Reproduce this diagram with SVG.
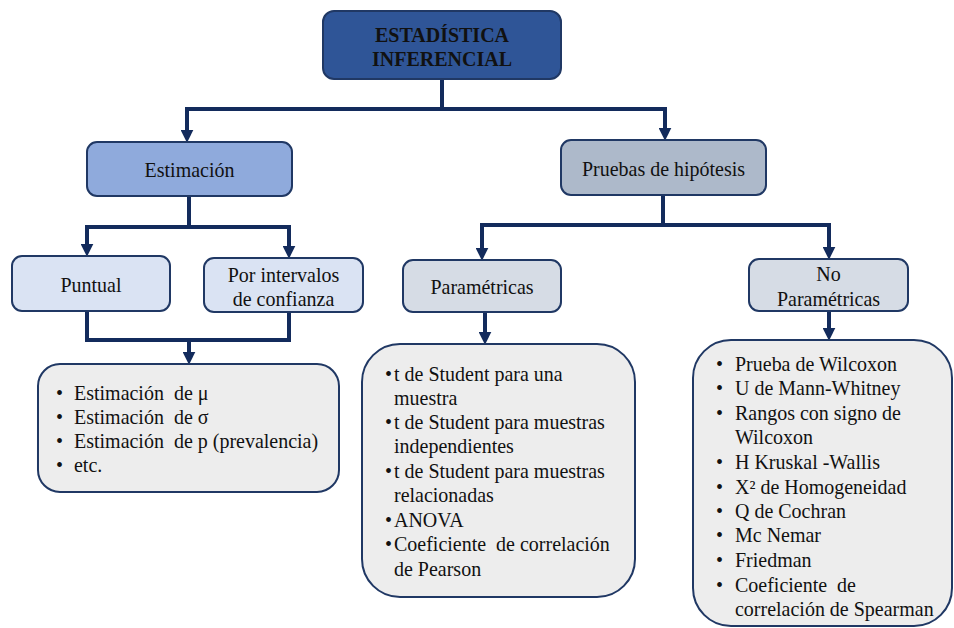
<svg xmlns="http://www.w3.org/2000/svg" width="954" height="628" viewBox="0 0 954 628">
<defs>
<marker id="ah" markerUnits="userSpaceOnUse" markerWidth="13" markerHeight="13" viewBox="0 0 12 12" refX="4" refY="6" orient="auto">
<path d="M0,0 L12,6 L0,12 z" fill="#132B5C"/>
</marker>
</defs>
<style>
.box{stroke:#203864;stroke-width:2}
.t{font-family:'Liberation Serif','Times New Roman',serif;font-size:24px;fill:#111111}
.c{text-anchor:middle}
.b{font-weight:bold}
.ln{fill:none;stroke:#132B5C;stroke-width:4;stroke-linecap:square}
.ar{fill:none;stroke:#132B5C;stroke-width:4}
</style>
<rect width="954" height="628" fill="#ffffff"/>
<g id="connectors">
<path class="ln" d="M442,79 V109"/>
<path class="ln" d="M187,109 H665"/>
<path class="ar" d="M187,109 V134" marker-end="url(#ah)"/>
<path class="ar" d="M665,109 V132" marker-end="url(#ah)"/>
<path class="ln" d="M189,196 V227"/>
<path class="ln" d="M87,227 H289"/>
<path class="ar" d="M87,227 V248" marker-end="url(#ah)"/>
<path class="ar" d="M289,227 V250" marker-end="url(#ah)"/>
<path class="ln" d="M663,195 V225"/>
<path class="ln" d="M482,225 H829"/>
<path class="ar" d="M482,225 V252" marker-end="url(#ah)"/>
<path class="ar" d="M829,225 V251" marker-end="url(#ah)"/>
<path class="ln" d="M87,312 V340 H289 V313" stroke-linejoin="miter"/>
<path class="ar" d="M189,340 V356" marker-end="url(#ah)"/>
<path class="ar" d="M485,312 V336" marker-end="url(#ah)"/>
<path class="ar" d="M829,311 V332" marker-end="url(#ah)"/>
</g>
<g id="n-root">
<rect class="box" x="323" y="11" width="238" height="68" rx="11" fill="#2F5597"/>
<text class="t c b" transform="translate(442,42) scale(0.83333)">ESTADÍSTICA</text>
<text class="t c b" transform="translate(442,66) scale(0.83333)">INFERENCIAL</text>
</g>
<g id="n-estimacion">
<rect class="box" x="87" y="142" width="205" height="54" rx="10" fill="#8FAADC"/>
<text class="t c" transform="translate(189.5,177) scale(0.83333)">Estimación</text>
</g>
<g id="n-pruebas">
<rect class="box" x="561" y="140" width="205" height="55" rx="10" fill="#ADB9CA"/>
<text class="t c" transform="translate(663.5,176) scale(0.83333)">Pruebas de hipótesis</text>
</g>
<g id="n-puntual">
<rect class="box" x="12" y="256" width="158" height="55" rx="10" fill="#DAE3F3"/>
<text class="t c" transform="translate(91,292) scale(0.83333)">Puntual</text>
</g>
<g id="n-intervalos">
<rect class="box" x="204" y="258" width="159" height="54" rx="10" fill="#DAE3F3"/>
<text class="t c" transform="translate(283.5,282) scale(0.83333)">Por intervalos</text>
<text class="t c" transform="translate(283.5,306) scale(0.83333)">de confianza</text>
</g>
<g id="n-parametricas">
<rect class="box" x="403" y="260" width="158" height="52" rx="10" fill="#D6DCE5"/>
<text class="t c" transform="translate(482,294) scale(0.83333)">Paramétricas</text>
</g>
<g id="n-noparametricas">
<rect class="box" x="749" y="259" width="159" height="52" rx="10" fill="#D6DCE5"/>
<text class="t c" transform="translate(828.5,281) scale(0.83333)">No</text>
<text class="t c" transform="translate(828.5,306) scale(0.83333)">Paramétricas</text>
</g>
<g id="n-list-estimacion">
<rect class="box" x="38" y="364" width="301" height="128" rx="22" fill="#EDEDED"/>
<text class="t" transform="translate(56,400) scale(0.83333)">•</text><text class="t" transform="translate(74,400) scale(0.83333)" xml:space="preserve">Estimación  de μ</text>
<text class="t" transform="translate(56,424) scale(0.83333)">•</text><text class="t" transform="translate(74,424) scale(0.83333)" xml:space="preserve">Estimación  de σ</text>
<text class="t" transform="translate(56,448) scale(0.83333)">•</text><text class="t" transform="translate(74,448) scale(0.83333)" xml:space="preserve">Estimación  de p (prevalencia)</text>
<text class="t" transform="translate(56,472) scale(0.83333)">•</text><text class="t" transform="translate(74,472) scale(0.83333)">etc.</text>
</g>
<g id="n-list-parametricas">
<rect class="box" x="362" y="344" width="273" height="253" rx="38" fill="#EDEDED"/>
<text class="t" transform="translate(385,381) scale(0.83333)">•</text><text class="t" transform="translate(394,381) scale(0.83333)">t de Student para una</text>
<text class="t" transform="translate(394,405) scale(0.83333)">muestra</text>
<text class="t" transform="translate(385,429) scale(0.83333)">•</text><text class="t" transform="translate(394,429) scale(0.83333)">t de Student para muestras</text>
<text class="t" transform="translate(394,453) scale(0.83333)">independientes</text>
<text class="t" transform="translate(385,478) scale(0.83333)">•</text><text class="t" transform="translate(394,478) scale(0.83333)">t de Student para muestras</text>
<text class="t" transform="translate(394,502) scale(0.83333)">relacionadas</text>
<text class="t" transform="translate(385,527) scale(0.83333)">•</text><text class="t" transform="translate(394,527) scale(0.83333)">ANOVA</text>
<text class="t" transform="translate(385,551) scale(0.83333)">•</text><text class="t" transform="translate(394,551) scale(0.83333)" xml:space="preserve">Coeficiente  de correlación</text>
<text class="t" transform="translate(394,576) scale(0.83333)">de Pearson</text>
</g>
<g id="n-list-noparametricas">
<rect class="box" x="693" y="340" width="259" height="286" rx="38" fill="#EDEDED"/>
<text class="t" transform="translate(716,371) scale(0.83333)">•</text><text class="t" transform="translate(735,371) scale(0.83333)">Prueba de Wilcoxon</text>
<text class="t" transform="translate(716,395) scale(0.83333)">•</text><text class="t" transform="translate(735,395) scale(0.83333)">U de Mann-Whitney</text>
<text class="t" transform="translate(716,420) scale(0.83333)">•</text><text class="t" transform="translate(735,420) scale(0.83333)">Rangos con signo de</text>
<text class="t" transform="translate(735,444) scale(0.83333)">Wilcoxon</text>
<text class="t" transform="translate(716,469) scale(0.83333)">•</text><text class="t" transform="translate(735,469) scale(0.83333)">H Kruskal -Wallis</text>
<text class="t" transform="translate(716,494) scale(0.83333)">•</text><text class="t" transform="translate(735,494) scale(0.83333)">X² de Homogeneidad</text>
<text class="t" transform="translate(716,518) scale(0.83333)">•</text><text class="t" transform="translate(735,518) scale(0.83333)">Q de Cochran</text>
<text class="t" transform="translate(716,542) scale(0.83333)">•</text><text class="t" transform="translate(735,542) scale(0.83333)">Mc Nemar</text>
<text class="t" transform="translate(716,567) scale(0.83333)">•</text><text class="t" transform="translate(735,567) scale(0.83333)">Friedman</text>
<text class="t" transform="translate(716,592) scale(0.83333)">•</text><text class="t" transform="translate(735,592) scale(0.83333)" xml:space="preserve">Coeficiente  de</text>
<text class="t" transform="translate(735,616) scale(0.83333)">correlación de Spearman</text>
</g>
</svg>
